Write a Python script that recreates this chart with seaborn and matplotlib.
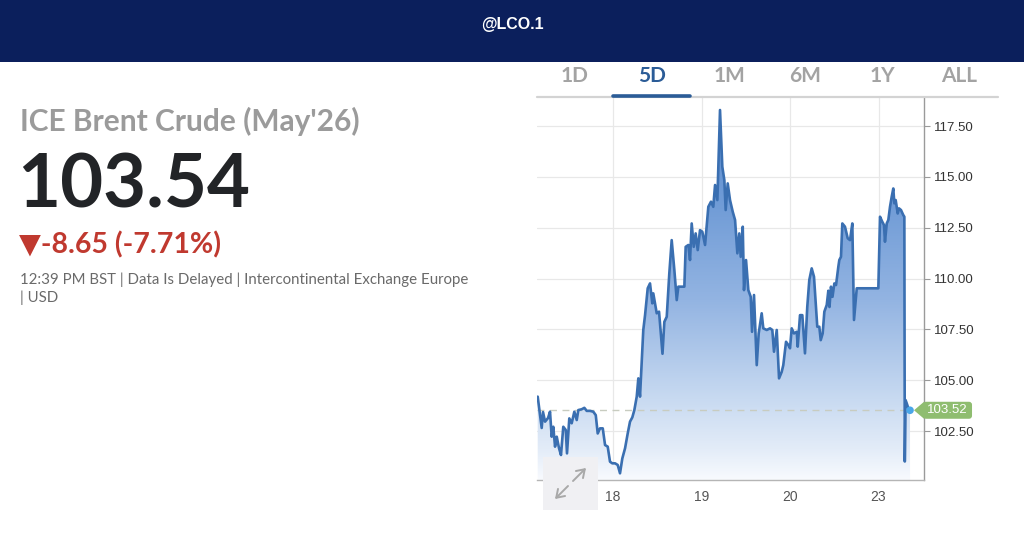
import numpy as np
import pandas as pd
import matplotlib
matplotlib.use("Agg")
import matplotlib.pyplot as plt
import seaborn as sns
from matplotlib.patches import Rectangle, Polygon, PathPatch, FancyBboxPatch, FancyArrowPatch
from matplotlib.lines import Line2D
from matplotlib.colors import LinearSegmentedColormap

# ---------------- data ----------------
day_pos = [-0.851, -0.806, -0.791, -0.768, -0.734, -0.712, -0.693, -0.675, -0.655, -0.636,
           -0.610, -0.588, -0.562, -0.534, -0.520, -0.494, -0.467, -0.437, -0.410, -0.392,
           -0.354, -0.324, -0.297, -0.260, -0.223, -0.195, -0.173, -0.147, -0.116, -0.090,
           -0.060, -0.034, -0.008, 0.023, 0.053, 0.079, 0.105, 0.136, 0.166, 0.192,
           0.218, 0.241, 0.268, 0.286, 0.305, 0.324, 0.342, 0.362, 0.392, 0.418,
           0.444, 0.455, 0.494, 0.520, 0.559, 0.580, 0.607, 0.636, 0.663, 0.693,
           0.720, 0.738, 0.806, 0.821, 0.851, 0.870, 0.889, 0.912, 0.934, 0.957,
           0.983, 1.009, 1.040, 1.077, 1.107, 1.133, 1.153, 1.179, 1.209, 1.235,
           1.258, 1.273, 1.296, 1.322, 1.353, 1.379, 1.405, 1.427, 1.443, 1.466,
           1.480, 1.503, 1.529, 1.556, 1.571, 1.593, 1.624, 1.646, 1.680, 1.698,
           1.737, 1.774, 1.800, 1.819, 1.850, 1.876, 1.906, 1.924, 1.955, 1.981,
           2.000, 2.019, 2.045, 2.076, 2.087, 2.113, 2.139, 2.169, 2.195, 2.218,
           2.245, 2.271, 2.294, 2.308, 2.331, 2.347, 2.369, 2.388, 2.415, 2.433,
           2.446, 2.463, 2.480, 2.501, 2.520, 2.546, 2.557, 2.576, 2.591, 2.621,
           2.652, 2.678, 2.704, 2.723, 2.742, 2.754, 2.998, 3.017, 3.043, 3.062,
           3.073, 3.093, 3.111, 3.130, 3.149, 3.167, 3.179, 3.194, 3.217, 3.232,
           3.254, 3.280, 3.292, 3.297, 3.306, 3.319, 3.337, 3.356]
price = [104.19, 102.65, 103.43, 102.96, 103.14, 103.45, 102.22, 102.71, 101.73, 102.22,
         101.65, 101.32, 102.71, 102.55, 101.40, 103.12, 102.88, 103.45, 103.04, 103.53,
         103.57, 103.64, 103.49, 103.49, 103.45, 103.28, 102.38, 102.63, 102.63, 101.81,
         101.73, 100.99, 100.91, 100.91, 100.83, 100.42, 101.15, 101.65, 102.38, 102.96,
         103.17, 103.53, 104.19, 105.09, 104.19, 105.83, 107.47, 108.20, 109.52, 109.76,
         108.78, 109.27, 108.29, 108.37, 106.30, 107.87, 108.12, 110.25, 111.89, 110.42,
         108.94, 109.60, 109.60, 111.56, 111.65, 110.91, 112.71, 111.56, 112.22, 111.40,
         112.38, 112.30, 111.65, 113.53, 113.78, 113.53, 114.60, 113.86, 118.29, 115.50,
         114.84, 113.37, 114.68, 113.86, 113.28, 112.88, 111.24, 112.22, 111.07, 112.55,
         109.43, 110.91, 109.43, 109.10, 107.38, 109.19, 105.74, 107.30, 108.29, 107.55,
         107.47, 107.55, 107.47, 106.40, 107.47, 105.09, 105.41, 105.74, 106.89, 106.73,
         106.57, 107.55, 107.30, 107.38, 106.65, 108.20, 108.20, 106.32, 108.61, 109.93,
         110.50, 110.09, 108.61, 107.63, 107.63, 106.97, 107.30, 108.37, 108.70, 109.40,
         108.60, 109.60, 109.10, 109.76, 109.68, 110.58, 110.91, 111.07, 112.71, 112.55,
         111.98, 111.89, 112.71, 107.96, 108.94, 109.52, 109.52, 113.04, 112.79, 112.63,
         111.81, 112.71, 112.88, 113.53, 114.02, 114.43, 113.70, 113.86, 113.20, 113.45,
         113.37, 113.12, 113.04, 101.00, 104.02, 103.86, 103.62, 103.52]
tick_pos = [0, 1, 2, 3]
tick_labels = ["18", "19", "20", "23"]
y_ticks = [102.5, 105.0, 107.5, 110.0, 112.5, 115.0, 117.5]
last_price = 103.52
symbol = "@LCO.1"
name = "ICE Brent Crude (May'26)"
quote = "103.54"
change = "▼-8.65 (-7.71%)"
info1 = "12:39 PM BST | Data Is Delayed | Intercontinental Exchange Europe"
info2 = "| USD"
tabs = ["1D", "5D", "1M", "6M", "1Y", "ALL"]
active_tab = "5D"

df = pd.DataFrame({"t": day_pos, "price": price})

# ---------------- style ----------------
sns.set_style("white")
plt.rcParams["font.family"] = ["Lato", "DejaVu Sans"]

W, H = 1024, 544
fig = plt.figure(figsize=(W / 100, H / 100), dpi=100)
fig.patch.set_facecolor("white")

def fx(px):
    return px / W

def fy(py):
    return 1 - py / H

# header bar
fig.patches.append(Rectangle((0, fy(62)), 1, 62 / H, transform=fig.transFigure,
                             facecolor="#0b1f5c", edgecolor="none", zorder=0))
fig.text(0.5, fy(24), symbol, color="white", fontsize=11.5, fontweight="bold",
         ha="center", va="center", family=["Liberation Sans", "DejaVu Sans"])

# left quote block
fig.text(fx(20), fy(131), name, color="#9b9b9b", fontsize=21.5, fontweight="bold",
         ha="left", va="baseline")
fig.text(fx(17), fy(208), quote, color="#222427", fontsize=53.5, fontweight="bold",
         ha="left", va="baseline")
fig.text(fx(19), fy(253), change, color="#c0392f", fontsize=20.5, fontweight="bold",
         ha="left", va="baseline", family=["Lato", "DejaVu Sans"])
fig.text(fx(20), fy(284), info1, color="#6a6a6a", fontsize=10.8, ha="left", va="baseline")
fig.text(fx(20), fy(302), info2, color="#6a6a6a", fontsize=10.8, ha="left", va="baseline")

# tabs
tab_x = [575, 652, 729, 805, 882, 959]
for lab, x in zip(tabs, tab_x):
    col = "#2b5c97" if lab == active_tab else "#a3a3a3"
    fig.text(fx(x), fy(82), lab, color=col, fontsize=15, fontweight="bold",
             ha="center", va="baseline")
fig.lines.append(Line2D([fx(537), fx(998)], [fy(96.5), fy(96.5)], transform=fig.transFigure,
                        color="#d3d3d3", linewidth=1.6))
fig.lines.append(Line2D([fx(613), fx(690)], [fy(96), fy(96)], transform=fig.transFigure,
                        color="#2b5c97", linewidth=2.6))

# ---------------- chart ----------------
ax = fig.add_axes([fx(537), fy(480), (924 - 537) / W, (480 - 97) / H])
xmin, xmax = -0.859, 3.514
ymin, ymax = 100.09, 118.93

grad = np.linspace(1, 0, 256).reshape(-1, 1)
cmap = LinearSegmentedColormap.from_list(
    "g", [(0.0, "#f8fafe"), (0.08, "#e3ecf8"), (0.21, "#c8daf1"), (0.47, "#93b4e2"),
          (0.73, "#6f9bd6"), (1.0, "#5a8bd0")])
im = ax.imshow(grad, extent=[xmin, xmax, ymin, ymax], aspect="auto", cmap=cmap,
               origin="upper", zorder=1, vmin=0, vmax=1)
fb = ax.fill_between(df["t"], df["price"], ymin, color="none", linewidth=0)
clip = PathPatch(fb.get_paths()[0], transform=ax.transData, facecolor="none", edgecolor="none")
ax.add_patch(clip)
im.set_clip_path(clip)

sns.lineplot(data=df, x="t", y="price", ax=ax, color="#3a6fb1", linewidth=1.9,
             estimator=None, sort=False, zorder=3)

ax.hlines(last_price, xmin, day_pos[-1], colors="#c8ccc0", linestyles=(0, (5, 4)),
          linewidth=1.0, zorder=2)
ax.scatter([day_pos[-1]], [last_price], s=30, color="#4aa6e8", zorder=5, clip_on=False,
           edgecolor="none")

ax.set_xlim(xmin, xmax)
ax.set_ylim(ymin, ymax)
ax.set_xticks(tick_pos)
ax.set_xticklabels(tick_labels)
ax.set_yticks(y_ticks)
ax.set_yticklabels([f"{v:.2f}" for v in y_ticks])
ax.yaxis.tick_right()
ax.set_xlabel("")
ax.set_ylabel("")
ax.grid(True, color="#e8e8e8", linewidth=0.9)
ax.set_axisbelow(True)
for s in ["left", "top"]:
    ax.spines[s].set_visible(False)
ax.spines["bottom"].set_color("#b5b5b5")
ax.spines["right"].set_color("#9a9a9a")
ax.spines["bottom"].set_linewidth(1.0)
ax.spines["right"].set_linewidth(1.0)
ax.tick_params(axis="y", direction="out", length=4, pad=3, labelsize=9.5,
               labelcolor="#333333", color="#9a9a9a", width=0.8)
ax.tick_params(axis="x", length=0, pad=7, labelsize=10, labelcolor="#555555")
for lab in ax.get_xticklabels() + ax.get_yticklabels():
    lab.set_family(["Liberation Sans", "DejaVu Sans"])

# price tag
fig.canvas.draw()
px_tip, py_tip = ax.transData.transform((day_pos[-1], last_price))
tip_x = px_tip + 4
body_l, body_r = tip_x + 9, tip_x + 58
hh = 8.5
fig.patches.append(Polygon([(tip_x, py_tip), (body_l + 1, py_tip + hh), (body_l + 1, py_tip - hh)],
                           closed=True, transform=None, facecolor="#8fbd70", edgecolor="none",
                           zorder=6))
fig.patches.append(FancyBboxPatch((body_l, py_tip - hh), body_r - body_l, 2 * hh,
                                  boxstyle="round,pad=0,rounding_size=3", transform=None,
                                  facecolor="#8fbd70", edgecolor="none", zorder=6))
fig.text((body_l + body_r) / 2 / W, py_tip / H, f"{last_price:.2f}", color="white",
         fontsize=9.5, ha="center", va="center", family=["Liberation Sans", "DejaVu Sans"],
         zorder=7)

# expand icon
fig.patches.append(Rectangle((fx(543), fy(510)), 55 / W, 53 / H, transform=fig.transFigure,
                             facecolor="#f0f0f3", edgecolor="none", zorder=8))
arrow_kw = dict(arrowstyle="->,head_length=0.45,head_width=0.3", color="#a8a8a8", lw=1.4,
                shrinkA=0, shrinkB=0)
fig.add_artist(FancyArrowPatch((fx(568), fy(486)), (fx(555), fy(499)),
                               transform=fig.transFigure, zorder=9,
                               mutation_scale=12, **arrow_kw))
fig.add_artist(FancyArrowPatch((fx(573), fy(481)), (fx(586), fy(468)),
                               transform=fig.transFigure, zorder=9,
                               mutation_scale=12, **arrow_kw))

fig.savefig("out.png", dpi=100)
